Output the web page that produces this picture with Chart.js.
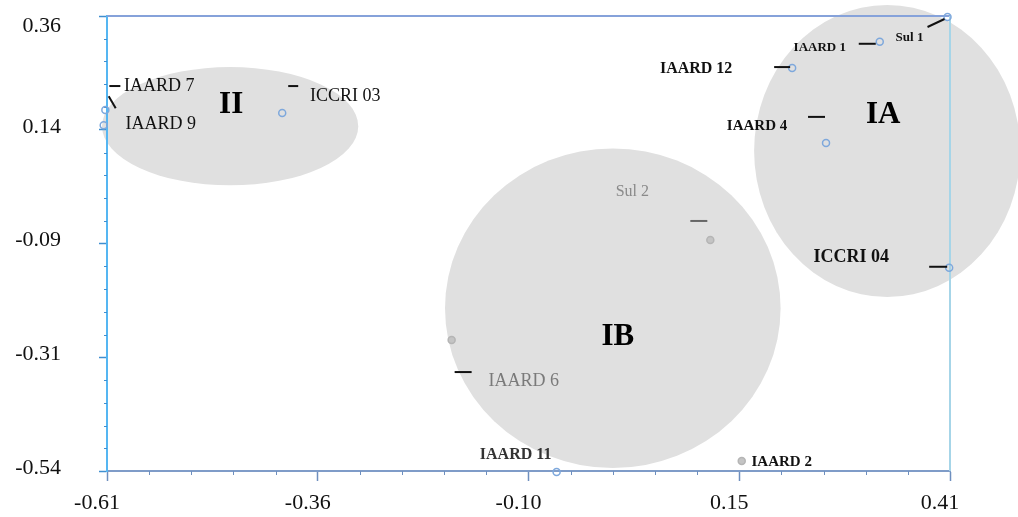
<!DOCTYPE html>
<html>
<head>
<meta charset="utf-8">
<script src="https://cdn.jsdelivr.net/npm/chart.js@4.4.1/dist/chart.umd.min.js"></script>
<style>
  html, body { margin: 0; padding: 0; background: #ffffff; }
  #wrap { width: 1018px; height: 517px; position: relative; }
</style>
</head>
<body>
<div id="wrap"><canvas id="c" width="1018" height="517"></canvas></div>
<script>
// ---- data ----
const accessions = ['Sul 1', 'IAARD 1', 'IAARD 12', 'IAARD 4', 'ICCRI 04', 'ICCRI 03', 'IAARD 7', 'IAARD 9', 'Sul 2', 'IAARD 6', 'IAARD 11', 'IAARD 2'];
const dim1 = [0.407, 0.325, 0.219, 0.260, 0.409, -0.398, -0.612, -0.614, 0.120, -0.193, -0.066, 0.158];
const dim2 = [0.358, 0.309, 0.257, 0.109, -0.138, 0.168, 0.174, 0.144, -0.083, -0.281, -0.542, -0.520];

const clusterNames = ['II', 'IB', 'IA'];
const clusterCenterX = [-0.461, 0.002, 0.334];
const clusterCenterY = [0.142, -0.218, 0.093];
const clusterSpreadX = [0.155, 0.203, 0.161];
const clusterSpreadY = [0.117, 0.316, 0.289];

const xTickValues = [-0.61, -0.355, -0.10, 0.155, 0.41];
const xTickLabels = ['-0.61', '-0.36', '-0.10', '0.15', '0.41'];
const yTickValues = [0.36, 0.135, -0.09, -0.315, -0.54];
const yTickLabels = ['0.36', '0.14', '-0.09', '-0.31', '-0.54'];

const fadedAccessions = ['Sul 2', 'IAARD 6', 'IAARD 2'];

// ---- styling ----
const SERIF = '"Liberation Serif", "Times New Roman", serif';
const labelStyle = {
  'Sul 1':    { dx: -38, dy: 21,  font: 'bold 13px', color: '#111', lead: [-20, 10, -3, 2] },
  'IAARD 1':  { dx: -60, dy: 6,   font: 'bold 13px', color: '#111', lead: [-21, 2, -4, 2] },
  'IAARD 12': { dx: -96, dy: 1,   font: 'bold 16px', color: '#111', lead: [-18, -1, -2, -1] },
  'IAARD 4':  { dx: -69, dy: -17, font: 'bold 15px', color: '#111', lead: [-18, -26, -1, -26] },
  'ICCRI 04': { dx: -98, dy: -10, font: 'bold 18px', color: '#111', lead: [-20, -1, -2, -1] },
  'ICCRI 03': { dx: 63,  dy: -17, font: '18px',      color: '#111', lead: [6, -27, 16, -27] },
  'IAARD 7':  { dx: 54,  dy: -24, font: '18px',      color: '#111', lead: [4, -24, 15, -24] },
  'IAARD 9':  { dx: 57,  dy: -1,  font: '18px',      color: '#111', lead: [5, -29, 12, -17] },
  'Sul 2':    { dx: -78, dy: -48, font: '16px',      color: '#8a8a8a', lead: [-20, -19, -3, -19], leadColor: '#666' },
  'IAARD 6':  { dx: 72,  dy: 41,  font: '18px',      color: '#7a7a7a', lead: [3, 32, 20, 32] },
  'IAARD 11': { dx: -41, dy: -17, font: 'bold 16px', color: '#333' },
  'IAARD 2':  { dx: 40,  dy: 1,   font: 'bold 15px', color: '#111' }
};
const clusterLabelOffset = { 'II': [1, -21], 'IB': [5, 29], 'IA': [-4, -36] };

const clusterPlugin = {
  id: 'clusters',
  beforeDraw(chart) {
    const { ctx, scales: { x, y } } = chart;
    ctx.save();
    ctx.fillStyle = '#e0e0e0';
    clusterNames.forEach((n, i) => {
      const cx = x.getPixelForValue(clusterCenterX[i]);
      const cy = y.getPixelForValue(clusterCenterY[i]);
      const rx = Math.abs(x.getPixelForValue(clusterCenterX[i] + clusterSpreadX[i]) - cx);
      const ry = Math.abs(y.getPixelForValue(clusterCenterY[i] + clusterSpreadY[i]) - cy);
      ctx.beginPath();
      ctx.ellipse(cx, cy, rx, ry, 0, 0, Math.PI * 2);
      ctx.fill();
    });
    ctx.restore();
  },
  beforeDatasetsDraw(chart) {
    const { ctx, chartArea: a, scales: { x, y } } = chart;
    ctx.save();
    ctx.lineWidth = 2;
    ctx.strokeStyle = '#86a2da';
    ctx.beginPath(); ctx.moveTo(a.left, a.top); ctx.lineTo(a.right, a.top); ctx.stroke();
    ctx.strokeStyle = '#a6d5e8';
    ctx.beginPath(); ctx.moveTo(a.right, a.top); ctx.lineTo(a.right, a.bottom); ctx.stroke();
    ctx.lineWidth = 1;
    ctx.strokeStyle = '#6e8fbf';
    for (let i = 0; i < xTickValues.length - 1; i++) {
      for (let k = 1; k < 5; k++) {
        const v = xTickValues[i] + (xTickValues[i + 1] - xTickValues[i]) * k / 5;
        const px = Math.round(x.getPixelForValue(v)) + 0.5;
        ctx.beginPath(); ctx.moveTo(px, a.bottom); ctx.lineTo(px, a.bottom + 4); ctx.stroke();
      }
    }
    ctx.strokeStyle = '#3f8fd0';
    for (let i = 0; i < yTickValues.length - 1; i++) {
      for (let k = 1; k < 5; k++) {
        const v = yTickValues[i] + (yTickValues[i + 1] - yTickValues[i]) * k / 5;
        const py = Math.round(y.getPixelForValue(v)) + 0.5;
        ctx.beginPath(); ctx.moveTo(a.left - 3, py); ctx.lineTo(a.left, py); ctx.stroke();
      }
    }
    ctx.restore();
  },
  afterDatasetsDraw(chart) {
    const { ctx, scales: { x, y } } = chart;
    const meta = chart.getDatasetMeta(0);
    ctx.save();
    ctx.textAlign = 'center';
    ctx.textBaseline = 'middle';
    ctx.fillStyle = '#000';
    clusterNames.forEach((n, i) => {
      const cx = x.getPixelForValue(clusterCenterX[i]);
      const cy = y.getPixelForValue(clusterCenterY[i]);
      const o = clusterLabelOffset[n];
      ctx.font = 'bold 31px ' + SERIF;
      ctx.fillText(n, cx + o[0], cy + o[1]);
    });
    accessions.forEach((n, i) => {
      const p = meta.data[i];
      const s = labelStyle[n];
      if (!p || !s) return;
      if (s.lead) {
        ctx.strokeStyle = s.leadColor || '#111';
        ctx.lineWidth = 2;
        ctx.beginPath();
        ctx.moveTo(p.x + s.lead[0], p.y + s.lead[1]);
        ctx.lineTo(p.x + s.lead[2], p.y + s.lead[3]);
        ctx.stroke();
      }
      ctx.font = s.font + ' ' + SERIF;
      ctx.fillStyle = s.color;
      ctx.fillText(n, p.x + s.dx, p.y + s.dy);
    });
    ctx.restore();
  }
};

const isFaded = (ctx) => fadedAccessions.includes(accessions[ctx.dataIndex]);

const chart = new Chart(document.getElementById('c'), {
  type: 'scatter',
  data: {
    datasets: [{
      label: 'Accessions',
      data: accessions.map((n, i) => ({ x: dim1[i], y: dim2[i] })),
      clip: false,
      pointRadius: 3.5,
      pointBorderWidth: 1.5,
      pointBorderColor: (c) => isFaded(c) ? '#b5b5b5' : '#7ea8dc',
      pointBackgroundColor: (c) => isFaded(c) ? '#c4c4c4' : 'rgba(255,255,255,0)'
    }]
  },
  options: {
    responsive: false,
    animation: false,
    events: [],
    layout: { padding: { top: 16, right: 68, left: 0, bottom: 0 } },
    plugins: { legend: { display: false }, tooltip: { enabled: false } },
    scales: {
      x: {
        type: 'linear',
        min: -0.61, max: 0.41,
        afterBuildTicks: (s) => { s.ticks = xTickValues.map(v => ({ value: v })); },
        afterFit: (s) => { s.height = 46; s.paddingLeft = 0; s.paddingRight = 0; },
        border: { display: true, color: '#7f9cc8', width: 2 },
        grid: { drawOnChartArea: false, drawTicks: true, tickLength: 10, tickColor: '#6e8fbf', tickWidth: 1.5 },
        ticks: {
          autoSkip: false, maxRotation: 0, padding: 9, labelOffset: -10,
          color: '#111', font: { family: SERIF, size: 22 },
          callback: (v, i) => xTickLabels[i]
        }
      },
      y: {
        type: 'linear',
        min: -0.54, max: 0.36,
        afterBuildTicks: (s) => { s.ticks = yTickValues.map(v => ({ value: v })); },
        afterFit: (s) => { s.width = 107; s.paddingTop = 0; s.paddingBottom = 0; },
        border: { display: true, color: '#55b6f2', width: 2 },
        grid: { drawOnChartArea: false, drawTicks: true, tickLength: 8, tickColor: '#3f8fd0', tickWidth: 1.5 },
        ticks: {
          autoSkip: false, padding: 38, labelOffset: -3,
          color: '#111', font: { family: SERIF, size: 22 },
          // the top label sits a little below its tick in the reference
          callback: (v, i) => i === 0 ? ['', yTickLabels[i]] : yTickLabels[i]
        }
      }
    }
  },
  plugins: [clusterPlugin]
});
</script>
</body>
</html>
